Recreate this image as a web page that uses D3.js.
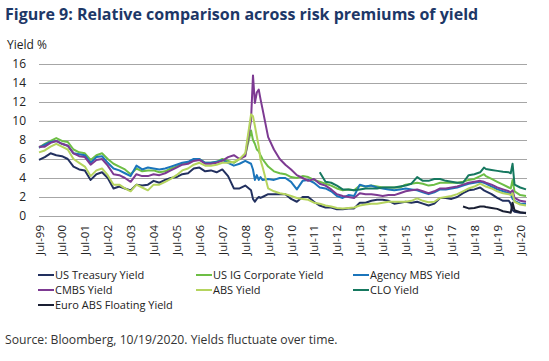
<!DOCTYPE html>
<html>
<head>
<meta charset="utf-8">
<script src="https://cdn.jsdelivr.net/npm/d3@7"></script>
<style>
  body {
    margin: 0;
    background: #fff;
    font-family: "Open Sans", sans-serif;
  }
</style>
</head>
<body>
<svg id="chart"></svg>
<script>
// Full size of the svg element.
const WIDTH = 549
const HEIGHT = 361

// Plot area edges.
const PLOT_LEFT = 39
const PLOT_RIGHT = 526
const PLOT_TOP = 64
const PLOT_BOTTOM = 216

// Month of every observation (quarterly, with a few extra months
// around the 2008 and 2020 spikes).
const months = [
  "1999-07", "1999-10",
  "2000-01", "2000-04", "2000-07", "2000-10",
  "2001-01", "2001-04", "2001-07", "2001-10",
  "2002-01", "2002-04", "2002-07", "2002-10",
  "2003-01", "2003-04", "2003-07", "2003-10",
  "2004-01", "2004-04", "2004-07", "2004-10",
  "2005-01", "2005-04", "2005-07", "2005-10",
  "2006-01", "2006-04", "2006-07", "2006-10",
  "2007-01", "2007-04", "2007-07", "2007-10",
  "2008-01", "2008-04", "2008-07", "2008-10", "2008-11", "2008-12",
  "2009-01", "2009-02", "2009-03", "2009-04", "2009-07", "2009-10",
  "2010-01", "2010-04", "2010-07", "2010-10",
  "2011-01", "2011-04", "2011-07", "2011-10",
  "2012-01", "2012-04", "2012-07", "2012-10",
  "2013-01", "2013-04", "2013-07", "2013-10",
  "2014-01", "2014-04", "2014-07", "2014-10",
  "2015-01", "2015-04", "2015-07", "2015-10",
  "2016-01", "2016-04", "2016-07", "2016-10",
  "2017-01", "2017-04", "2017-07", "2017-10",
  "2018-01", "2018-04", "2018-07", "2018-10", "2018-12",
  "2019-01", "2019-04", "2019-07", "2019-10",
  "2020-01", "2020-02", "2020-03", "2020-04", "2020-07", "2020-10",
]

// Yields in %, one value per month above (null = no data).
const treasury = [
  5.9, 6.2,
  6.6, 6.4, 6.3, 6.0,
  5.2, 4.9, 4.8, 3.8,
  4.4, 4.6, 4.0, 2.9,
  3.1, 2.9, 2.7, 3.3,
  3.2, 3.3, 3.7, 3.5,
  3.8, 4.0, 4.1, 4.4,
  4.5, 5.0, 5.1, 4.7,
  4.8, 4.6, 4.9, 4.2,
  2.9, 2.9, 3.2, 2.7, 1.8, 1.5,
  1.8, 2.0, 1.9, 2.0, 2.3, 2.3,
  2.3, 2.3, 1.8, 1.5,
  2.0, 2.0, 1.5, 1.1,
  0.9, 0.9, 0.7, 0.7,
  0.8, 0.8, 1.4, 1.4,
  1.6, 1.7, 1.7, 1.6,
  1.3, 1.4, 1.5, 1.4,
  1.5, 1.3, 1.1, 1.3,
  1.9, 1.9, 1.8, 2.0,
  2.4, 2.7, 2.8, 3.0, 2.7,
  2.6, 2.3, 1.9, 1.6,
  1.6, 1.3, 0.6, 0.45, 0.35, 0.35,
]

const igCorporate = [
  7.2, 7.6,
  7.9, 8.2, 7.9, 7.8,
  7.0, 6.7, 6.6, 5.9,
  6.4, 6.6, 6.0, 5.5,
  5.2, 4.9, 4.4, 5.0,
  4.7, 4.8, 4.8, 4.6,
  4.7, 5.0, 5.2, 5.5,
  5.6, 5.9, 6.0, 5.6,
  5.6, 5.7, 6.0, 5.8,
  5.6, 6.0, 6.4, 9.0, 8.0, 7.6,
  7.0, 6.8, 6.4, 6.0, 5.2, 4.7,
  4.5, 4.4, 4.1, 4.0,
  4.2, 4.1, 3.8, 3.6,
  3.4, 3.2, 2.9, 2.7,
  2.8, 2.7, 3.2, 3.1,
  3.2, 3.1, 3.0, 3.0,
  3.0, 3.0, 3.3, 3.4,
  3.5, 3.4, 3.2, 3.3,
  3.5, 3.5, 3.5, 3.5,
  3.6, 3.8, 3.9, 4.2, 4.4,
  4.2, 3.9, 3.6, 3.3,
  3.0, 2.9, 3.8, 2.6, 2.2, 2.1,
]

const agencyMbs = [
  7.2, 7.5,
  7.8, 7.9, 7.6, 7.4,
  6.6, 6.5, 6.4, 5.6,
  6.2, 6.3, 5.6, 5.0,
  4.8, 4.5, 4.2, 5.3,
  4.9, 5.1, 5.0, 4.9,
  5.0, 5.2, 5.4, 5.6,
  5.7, 6.0, 6.0, 5.6,
  5.6, 5.7, 5.9, 5.6,
  5.3, 5.5, 5.8, 5.5, 4.9, 3.8,
  4.3, 3.8, 4.1, 3.8, 3.9, 3.8,
  4.0, 4.0, 3.6, 2.8,
  3.7, 3.8, 3.5, 3.0,
  2.9, 2.6, 2.1, 1.9,
  2.2, 2.1, 3.3, 3.1,
  3.2, 3.0, 2.9, 2.8,
  2.7, 2.8, 2.9, 2.8,
  2.7, 2.5, 2.3, 2.5,
  2.8, 2.8, 2.9, 3.0,
  3.2, 3.4, 3.5, 3.6, 3.5,
  3.4, 3.1, 2.8, 2.6,
  2.4, 2.3, 1.8, 1.6, 1.3, 1.3,
]

const cmbs = [
  7.3, 7.3,
  7.7, 7.9, 7.6, 7.4,
  6.6, 6.3, 6.2, 5.4,
  5.9, 6.0, 5.3, 4.4,
  4.3, 4.0, 3.6, 4.4,
  4.2, 4.2, 4.4, 4.3,
  4.5, 4.8, 5.1, 5.4,
  5.5, 5.8, 5.9, 5.5,
  5.5, 5.6, 5.8, 6.2,
  6.4, 6.0, 6.3, 10.1, 14.8, 11.9,
  13.0, 13.3, 12.3, 11.3, 8.3, 7.0,
  6.0, 5.4, 4.9, 4.3,
  4.0, 3.7, 3.9, 3.4,
  3.2, 2.8, 2.3, 2.1,
  2.0, 1.9, 2.4, 2.3,
  2.3, 2.2, 2.1, 2.2,
  2.2, 2.4, 2.6, 2.7,
  2.8, 2.6, 2.4, 2.6,
  2.9, 2.9, 3.0, 3.1,
  3.3, 3.5, 3.6, 3.7, 3.6,
  3.5, 3.3, 3.0, 2.8,
  2.6, 2.5, 2.7, 1.9, 1.6, 1.5,
]

const abs = [
  6.7, 6.9,
  7.3, 7.6, 7.3, 7.0,
  6.0, 5.6, 5.2, 4.2,
  4.8, 5.0, 4.3, 3.3,
  3.3, 2.9, 2.6, 3.3,
  3.0, 2.7, 3.3, 3.3,
  3.6, 3.9, 4.3, 4.8,
  5.0, 5.4, 5.6, 5.3,
  5.3, 5.4, 5.6, 5.6,
  5.7, 6.0, 6.6, 10.7, 10.5, 9.5,
  8.4, 7.3, 5.9, 5.2, 2.9, 2.6,
  2.4, 2.3, 2.1, 1.9,
  1.8, 1.7, 1.4, 1.3,
  1.1, 1.0, 0.85, 0.8,
  0.85, 0.9, 1.1, 1.2,
  1.3, 1.3, 1.4, 1.5,
  1.5, 1.5, 1.5, 1.6,
  1.85, 1.6, 1.45, 1.5,
  1.9, 2.0, 2.1, 2.3,
  2.6, 2.9, 3.1, 3.4, 3.2,
  3.1, 2.9, 2.6, 2.4,
  2.3, 2.2, 2.4, 1.5, 1.2, 1.1,
]

const clo = [
  null, null,
  null, null, null, null,
  null, null, null, null,
  null, null, null, null,
  null, null, null, null,
  null, null, null, null,
  null, null, null, null,
  null, null, null, null,
  null, null, null, null,
  null, null, null, null, null, null,
  null, null, null, null, null, null,
  null, null, null, null,
  null, null, null, 4.6,
  3.6, 3.5, 3.2, 2.8,
  2.8, 2.7, 2.8, 2.9,
  2.9, 2.9, 3.0, 3.0,
  3.0, 3.1, 3.2, 3.4,
  4.1, 3.7, 3.7, 3.9,
  3.9, 3.7, 3.6, 3.5,
  3.5, 4.3, 4.4, 4.6, 5.1,
  4.95, 4.85, 4.75, 4.65,
  4.6, 4.5, 5.5, 3.3, 3.0, 2.8,
]

const euroAbs = [
  null, null,
  null, null, null, null,
  null, null, null, null,
  null, null, null, null,
  null, null, null, null,
  null, null, null, null,
  null, null, null, null,
  null, null, null, null,
  null, null, null, null,
  null, null, null, null, null, null,
  null, null, null, null, null, null,
  null, null, null, null,
  null, null, null, null,
  null, null, null, null,
  null, null, null, null,
  null, null, null, null,
  null, null, null, null,
  null, null, null, null,
  null, null, null, null,
  1.0, 0.8, 0.85, 1.0, 1.0,
  0.95, 0.85, 0.75, 0.5,
  0.4, 0.35, 1.4, 0.6, 0.4, 0.3,
]

// Series names in legend order.
const seriesNames = [
  "US Treasury Yield",
  "US IG Corporate Yield",
  "Agency MBS Yield",
  "CMBS Yield",
  "ABS Yield",
  "CLO Yield",
  "Euro ABS Floating Yield",
]
const seriesValues = [treasury, igCorporate, agencyMbs, cmbs, abs, clo, euroAbs]

// Axis ticks.
const yTicks = [0, 2, 4, 6, 8, 10, 12, 14, 16]
const xTickLabels = [
  "Jul-99", "Jul-00", "Jul-01", "Jul-02", "Jul-03", "Jul-04", "Jul-05",
  "Jul-06", "Jul-07", "Jul-08", "Jul-09", "Jul-10", "Jul-11", "Jul-12",
  "Jul-13", "Jul-14", "Jul-15", "Jul-16", "Jul-17", "Jul-18", "Jul-19",
  "Jul-20",
]

// Line colours, same order as seriesNames.
const colors = [
  "#22305f",
  "#6dbe45",
  "#1b75bb",
  "#7d3a92",
  "#b5d45e",
  "#16785f",
  "#1a1f33",
]

const parseMonth = d3.timeParse("%Y-%m")
const parseTick = d3.timeParse("%b-%y")
const dates = months.map(parseMonth)

const x = d3
  .scaleTime()
  .domain([parseMonth("1999-07"), parseMonth("2020-10")])
  .range([PLOT_LEFT, PLOT_RIGHT])

const y = d3.scaleLinear().domain([0, 16]).range([PLOT_BOTTOM, PLOT_TOP])

const svg = d3.select("#chart").attr("width", WIDTH).attr("height", HEIGHT)

// Title
svg
  .append("text")
  .attr("x", 5)
  .attr("y", 20)
  .attr("fill", "#1d3767")
  .attr("font-size", 16)
  .attr("font-weight", 700)
  .text("Figure 9: Relative comparison across risk premiums of yield")

// Axis title
svg
  .append("text")
  .attr("x", 7)
  .attr("y", 49)
  .attr("fill", "#222")
  .attr("font-size", 12)
  .text("Yield %")

// Horizontal gridlines
svg
  .append("g")
  .selectAll("line")
  .data(yTicks)
  .join("line")
  .attr("x1", PLOT_LEFT)
  .attr("x2", PLOT_RIGHT + 1)
  .attr("y1", (d) => y(d) + 0.5)
  .attr("y2", (d) => y(d) + 0.5)
  .attr("stroke", "#a6a6a6")
  .attr("stroke-width", 1)

// Y axis labels
const yAxis = svg
  .append("g")
  .attr("transform", "translate(26,0)")
  .call(d3.axisLeft(y).tickValues(yTicks).tickSize(0).tickPadding(0))
yAxis.select(".domain").remove()
yAxis
  .selectAll("text")
  .attr("font-family", "Open Sans")
  .attr("font-size", 12)
  .attr("fill", "#222")

// X axis labels, rotated
const xAxis = svg
  .append("g")
  .attr("transform", `translate(0,${PLOT_BOTTOM})`)
  .call(
    d3
      .axisBottom(x)
      .tickValues(xTickLabels.map(parseTick))
      .tickSize(0)
      .tickFormat((d, i) => xTickLabels[i])
  )
xAxis.select(".domain").remove()
xAxis
  .selectAll("text")
  .attr("font-family", "Open Sans")
  .attr("font-size", 11.5)
  .attr("fill", "#222")
  .attr("transform", "rotate(-90)")
  .attr("text-anchor", "end")
  .attr("x", -9)
  .attr("y", 0)
  .attr("dy", "0.35em")

// Series lines
const line = d3
  .line()
  .defined((d) => d.value != null)
  .x((d) => x(d.date))
  .y((d) => y(d.value))

svg
  .append("g")
  .selectAll("path")
  .data(seriesValues)
  .join("path")
  .attr("fill", "none")
  .attr("stroke", (d, i) => colors[i])
  .attr("stroke-width", 2)
  .attr("stroke-linejoin", "round")
  .attr("d", (values) => line(values.map((v, i) => ({ date: dates[i], value: v }))))

// Legend, three columns
const legendX = [38, 196, 353]
const legendY = [275, 290, 305]

const legend = svg
  .append("g")
  .selectAll("g")
  .data(seriesNames)
  .join("g")
  .attr("transform", (d, i) => `translate(${legendX[i % 3]},${legendY[Math.floor(i / 3)]})`)

legend
  .append("line")
  .attr("x1", 0)
  .attr("x2", 16)
  .attr("stroke", (d, i) => colors[i])
  .attr("stroke-width", 2)

legend
  .append("text")
  .attr("x", 17)
  .attr("dy", "0.35em")
  .attr("font-size", 11)
  .attr("fill", "#222")
  .text((d) => d)

// Source note
svg
  .append("text")
  .attr("x", 5)
  .attr("y", 344)
  .attr("font-size", 12.2)
  .attr("fill", "#333")
  .text("Source: Bloomberg, 10/19/2020. Yields fluctuate over time.")
</script>
</body>
</html>
